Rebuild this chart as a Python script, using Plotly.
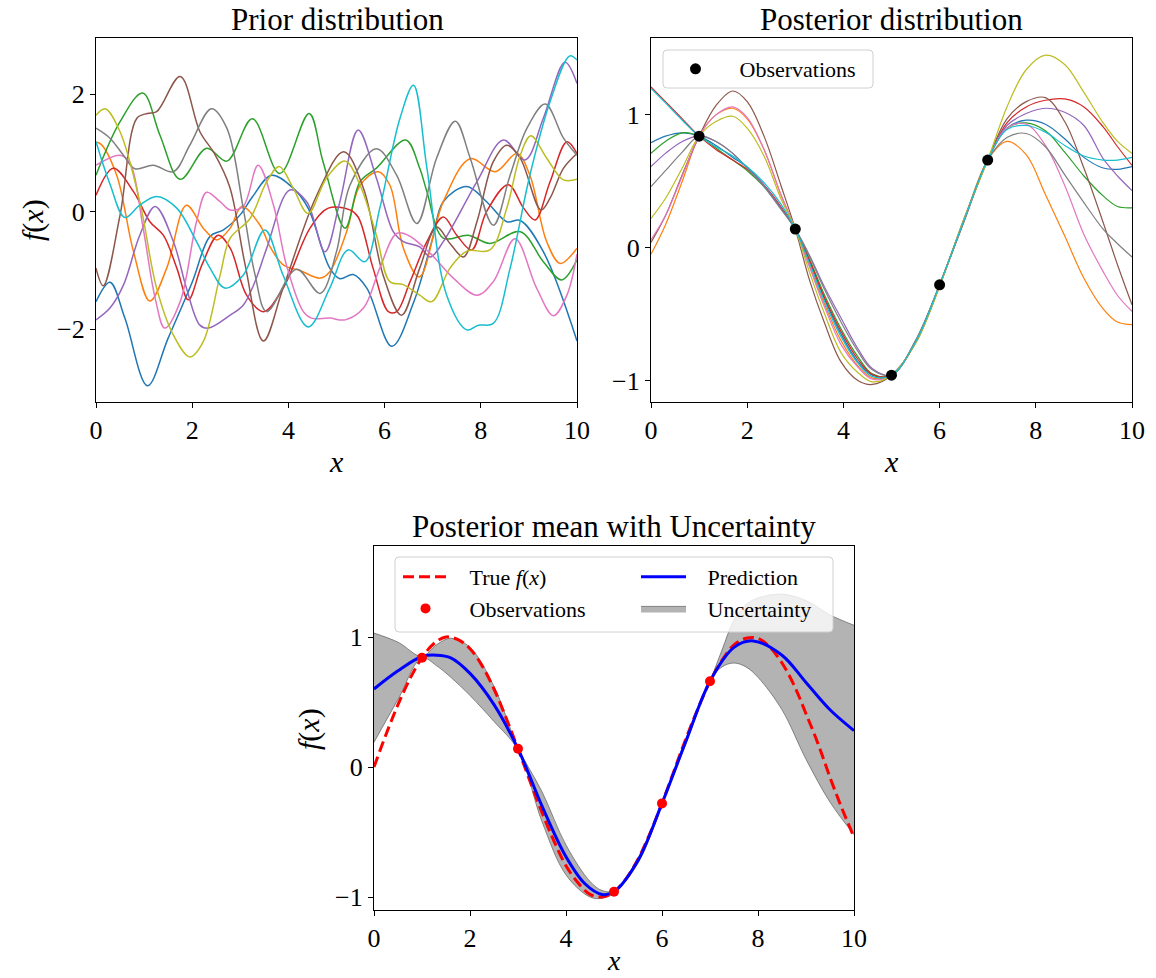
import plotly.graph_objects as go

W, H = 1156, 978
FONT = "Liberation Serif"
NB = "\u00a0\u00a0\u00a0"

# ---------------- Prior samples ----------------
prior_blue_x = [0, 0.29, 0.6, 1.07, 1.5, 2.0, 2.37, 2.65, 3.0, 3.25, 3.65, 4.1, 4.41, 4.86, 5.07, 5.35, 5.63, 6.15, 6.6, 7.0, 7.22, 7.71, 8.12, 8.54, 8.82, 9.3, 10]
prior_blue_y = [-1.53, -1.20, -1.81, -2.96, -2.15, -1.20, -0.42, -0.31, -0.05, 0.25, 0.62, 0.40, 0.06, -0.96, -1.14, -1.07, -1.30, -2.29, -1.55, -0.45, 0.17, 0.43, 0.17, -0.17, -0.15, -0.68, -2.2]

prior_orange_x = [0, 0.1, 0.43, 0.78, 1.12, 1.47, 1.88, 2.23, 2.51, 2.79, 3.03, 3.41, 3.62, 3.9, 4.24, 4.66, 4.86, 5.21, 5.49, 5.87, 6.11, 6.39, 6.72, 7.22, 7.78, 8.3, 8.75, 9.02, 9.37, 9.65, 10]
prior_orange_y = [1.18, 1.15, 0.62, -0.68, -1.52, -0.96, 0.11, -0.28, -0.48, -0.28, 0.09, -0.23, -0.60, -0.91, -1.00, -1.13, -1.02, -0.34, 0.45, 0.68, 0.45, -0.62, -1.11, 0.17, 0.90, 0.68, 0.99, 0.62, -0.51, -0.88, -0.62]

prior_green_x = [0, 0.5, 0.97, 1.33, 1.75, 2.3, 2.72, 3.25, 3.82, 4.43, 4.72, 5.18, 5.49, 5.83, 6.44, 6.73, 6.88, 7.22, 7.74, 8.19, 8.82, 9.3, 9.68, 10]
prior_green_y = [0.62, 1.53, 2.02, 1.30, 0.55, 1.08, 0.86, 1.58, 0.65, 1.67, 0.85, -0.28, 0.51, 0.74, 1.22, 0.74, 0.34, -0.45, -0.40, -0.54, -0.34, -0.85, -1.16, -0.82]

prior_red_x = [0, 0.36, 0.78, 1.12, 1.4, 1.68, 1.92, 2.2, 2.54, 2.79, 3.13, 3.48, 3.89, 4.45, 4.83, 5.28, 5.45, 5.76, 6.08, 6.25, 6.53, 6.88, 7.22, 7.5, 7.81, 8.12, 8.57, 8.89, 9.13, 9.44, 9.79, 10]
prior_red_y = [0.28, 0.74, 0.34, -0.17, -0.40, -0.96, -1.50, -0.91, -0.40, -0.62, -1.42, -1.70, -1.30, -0.28, 0.06, 0.03, -0.09, -0.96, -1.70, -1.70, -1.19, -0.51, -0.09, -0.40, -0.65, 0.0, 0.46, 0.06, -0.14, 0.51, 1.19, 0.99]

prior_purple_x = [0, 0.29, 0.57, 0.91, 1.23, 1.61, 1.88, 2.16, 2.34, 2.79, 3.06, 3.3, 3.55, 4.03, 4.38, 4.76, 5.07, 5.45, 5.83, 6.18, 6.39, 6.73, 6.95, 7.22, 7.92, 8.47, 8.92, 9.3, 9.75, 10]
prior_purple_y = [-1.84, -1.64, -1.25, -0.40, 0.09, -0.51, -1.30, -1.93, -1.98, -1.76, -1.59, -1.20, -0.62, 0.37, 0.17, -0.68, 0.17, 1.39, 0.57, -0.34, -0.51, -0.60, -0.77, -0.51, 0.51, 1.22, 0.88, 1.59, 2.54, 2.18]

prior_brown_x = [0, 0.15, 0.5, 0.85, 1.07, 1.26, 1.75, 2.16, 2.46, 2.78, 3.1, 3.48, 3.89, 4.59, 5.15, 5.56, 5.97, 6.35, 6.73, 7.08, 7.36, 7.64, 7.92, 8.26, 8.54, 8.82, 9.25, 9.44, 9.72, 10]
prior_brown_y = [-0.96, -1.26, -0.06, 1.59, 1.67, 1.70, 2.30, 1.36, 0.99, 0.42, -0.90, -2.20, -1.30, 0.28, 1.02, 0.40, -1.08, -1.76, -0.96, -0.26, -0.54, -0.77, -0.17, 0.85, 1.13, 0.91, 0.03, 0.23, 0.74, 0.99]

prior_pink_x = [0, 0.5, 0.71, 0.98, 1.23, 1.43, 1.75, 2.09, 2.3, 2.58, 2.79, 3.06, 3.37, 3.69, 3.96, 4.31, 4.48, 4.86, 5.18, 5.56, 5.9, 6.25, 6.49, 6.95, 7.43, 7.92, 8.26, 8.71, 9.16, 9.51, 9.79, 10]
prior_pink_y = [0.79, 0.96, 0.82, -0.28, -1.47, -1.98, -1.53, -0.17, 0.33, 0.17, 0.03, 0.09, 0.79, 0.11, -0.91, -1.70, -1.81, -1.81, -1.84, -1.64, -0.96, -0.37, -0.40, -0.71, -1.13, -1.42, -1.19, -0.46, -1.30, -1.77, -1.42, -0.72]

prior_gray_x = [0, 0.29, 0.57, 0.81, 1.19, 1.61, 1.95, 2.4, 2.72, 3.06, 3.3, 3.55, 4.17, 4.66, 5.0, 5.28, 5.83, 6.25, 6.67, 7.08, 7.47, 7.78, 8.26, 8.61, 8.96, 9.34, 9.72, 10]
prior_gray_y = [1.42, 1.25, 0.96, 0.73, 0.79, 0.68, 1.13, 1.75, 1.42, 0.06, -1.05, -1.70, -0.98, -1.39, -0.68, 0.45, 1.07, 0.62, -0.20, 0.91, 1.54, 0.91, -0.23, 0.62, 1.42, 1.83, 1.25, 0.96]

prior_olive_x = [0, 0.19, 0.5, 0.91, 1.26, 1.61, 1.95, 2.23, 2.58, 2.79, 3.2, 3.55, 3.81, 4.1, 4.41, 4.79, 5.18, 5.49, 5.83, 6.11, 6.39, 6.73, 6.98, 7.36, 7.71, 8.19, 8.54, 8.82, 9.04, 9.37, 9.72, 10]
prior_olive_y = [1.64, 1.75, 1.36, 0.17, -1.30, -2.10, -2.47, -2.21, -1.08, -0.45, -0.12, 0.51, 0.77, 0.40, -0.03, 0.57, 0.86, 0.45, -0.40, -1.19, -1.24, -1.42, -1.53, -0.96, -0.67, -0.65, 0.06, 0.96, 1.29, 0.91, 0.54, 0.55]

prior_cyan_x = [0, 0.29, 0.6, 0.91, 1.26, 1.68, 2.09, 2.37, 2.68, 3.06, 3.51, 3.89, 4.41, 4.86, 5.24, 5.59, 5.9, 6.32, 6.6, 6.88, 7.29, 7.71, 7.95, 8.26, 8.61, 9.02, 9.44, 9.85, 10]
prior_cyan_y = [1.19, 0.47, -0.10, 0.11, 0.26, 0.06, -0.51, -0.96, -1.30, -1.08, -0.31, -1.08, -1.96, -1.30, -0.65, -0.85, 0.06, 1.59, 2.15, 0.74, -1.42, -2.01, -1.93, -1.90, -0.96, 0.62, 1.87, 2.65, 2.58]

# ---------------- Posterior samples ----------------
post_x = [0, 0.3, 0.65, 1.0, 1.35, 1.7, 2.0, 2.35, 2.7, 3.0, 3.3, 3.6, 3.95, 4.3, 4.6, 5.0, 5.5, 6.0, 6.5, 7.0, 7.4, 7.8, 8.2, 8.6, 9.0, 9.4, 9.7, 10.0]
post_blue = [0.79, 0.84, 0.865, 0.84, 0.77, 0.68, 0.605, 0.47, 0.30, 0.14, -0.11, -0.38, -0.65, -0.86, -0.96, -0.96, -0.71, -0.28, 0.20, 0.66, 0.90, 0.96, 0.93, 0.82, 0.68, 0.60, 0.59, 0.61]
post_orange = [-0.05, 0.17, 0.50, 0.84, 1.00, 1.05, 0.97, 0.74, 0.40, 0.14, -0.14, -0.42, -0.70, -0.89, -0.98, -0.96, -0.71, -0.28, 0.20, 0.66, 0.80, 0.70, 0.40, 0.09, -0.23, -0.46, -0.56, -0.58]
post_green = [0.71, 0.80, 0.865, 0.84, 0.75, 0.66, 0.58, 0.46, 0.30, 0.14, -0.09, -0.35, -0.61, -0.82, -0.95, -0.96, -0.71, -0.28, 0.20, 0.66, 0.90, 0.94, 0.88, 0.72, 0.54, 0.39, 0.31, 0.30]
post_red = [1.21, 1.10, 0.97, 0.84, 0.74, 0.66, 0.59, 0.47, 0.31, 0.14, -0.10, -0.37, -0.63, -0.84, -0.955, -0.96, -0.71, -0.28, 0.20, 0.66, 0.94, 1.06, 1.11, 1.12, 1.06, 0.91, 0.76, 0.62]
post_purple = [0.61, 0.71, 0.80, 0.84, 0.80, 0.71, 0.60, 0.47, 0.30, 0.14, -0.06, -0.29, -0.53, -0.76, -0.91, -0.96, -0.70, -0.28, 0.19, 0.66, 0.92, 1.01, 1.05, 1.02, 0.92, 0.67, 0.54, 0.43]
post_brown = [0.04, 0.24, 0.55, 0.84, 1.07, 1.18, 1.10, 0.84, 0.47, 0.14, -0.25, -0.56, -0.86, -1.00, -1.03, -0.96, -0.72, -0.29, 0.21, 0.66, 0.97, 1.10, 1.13, 0.95, 0.60, 0.19, -0.13, -0.43]
post_pink = [0.06, 0.24, 0.54, 0.84, 1.00, 1.06, 0.98, 0.74, 0.40, 0.14, -0.15, -0.44, -0.73, -0.90, -0.99, -0.96, -0.71, -0.28, 0.20, 0.66, 0.90, 0.93, 0.77, 0.47, 0.10, -0.18, -0.36, -0.48]
post_gray = [0.46, 0.58, 0.72, 0.84, 0.80, 0.71, 0.60, 0.46, 0.29, 0.14, -0.07, -0.31, -0.56, -0.78, -0.92, -0.96, -0.70, -0.28, 0.19, 0.66, 0.83, 0.86, 0.76, 0.55, 0.34, 0.14, 0.03, -0.07]
post_olive = [0.22, 0.37, 0.60, 0.84, 0.95, 0.99, 0.90, 0.69, 0.37, 0.14, -0.19, -0.49, -0.79, -0.94, -1.01, -0.96, -0.72, -0.29, 0.21, 0.66, 1.06, 1.34, 1.45, 1.38, 1.17, 0.94, 0.80, 0.71]
post_cyan = [1.20, 1.09, 0.96, 0.84, 0.76, 0.69, 0.61, 0.49, 0.33, 0.14, -0.12, -0.40, -0.67, -0.87, -0.97, -0.96, -0.71, -0.28, 0.20, 0.66, 0.89, 0.92, 0.87, 0.77, 0.69, 0.66, 0.66, 0.68]

# ---------------- Observations ----------------
obs_x = [1, 3, 5, 6, 7]
obs_y = [0.84, 0.14, -0.96, -0.28, 0.66]

# ---------------- Posterior mean with uncertainty ----------------
true_x = [0, 0.25, 0.5, 0.75, 1, 1.25, 1.5, 1.75, 2, 2.25, 2.5, 2.75, 3, 3.25, 3.5, 3.75, 4, 4.25, 4.5, 4.75, 5,
          5.25, 5.5, 5.75, 6, 6.25, 6.5, 6.75, 7, 7.25, 7.5, 7.75, 8, 8.25, 8.5, 8.75, 9, 9.25, 9.5, 9.75, 10]
true_y = [0.00, 0.25, 0.48, 0.68, 0.84, 0.95, 1.00, 0.98, 0.91, 0.78, 0.60, 0.38, 0.14, -0.11, -0.35, -0.57, -0.76,
          -0.89, -0.98, -1.00, -0.96, -0.86, -0.71, -0.51, -0.28, -0.03, 0.22, 0.45, 0.66, 0.82, 0.94, 0.99, 0.99,
          0.92, 0.80, 0.63, 0.41, 0.18, -0.08, -0.32, -0.54]

pred_x = [0, 0.5, 1, 1.3, 1.6, 2, 2.5, 3, 3.5, 4, 4.4, 4.75, 5, 5.5, 6, 6.5, 7, 7.5, 7.9, 8.5, 9, 9.5, 10]
pred_y = [0.60, 0.74, 0.85, 0.86, 0.84, 0.72, 0.48, 0.14, -0.30, -0.69, -0.90, -0.98, -0.96, -0.72, -0.28, 0.20, 0.66, 0.92, 0.97, 0.86, 0.65, 0.44, 0.28]

band_x = [0, 0.5, 1, 1.3, 1.6, 2, 2.5, 3, 3.5, 4, 4.5, 4.75, 5, 5.5, 6, 6.5, 7, 7.25, 7.5, 7.75, 8, 8.5, 9, 9.5, 10]
band_upper = [1.03, 0.96, 0.85, 0.94, 0.99, 0.92, 0.62, 0.15, -0.19, -0.60, -0.88, -0.95, -0.95, -0.70, -0.27, 0.22, 0.66, 0.90, 1.13, 1.25, 1.30, 1.33, 1.28, 1.17, 1.09]
band_lower = [0.19, 0.52, 0.84, 0.78, 0.69, 0.55, 0.35, 0.13, -0.42, -0.83, -1.00, -1.01, -0.97, -0.74, -0.29, 0.18, 0.66, 0.77, 0.80, 0.77, 0.69, 0.44, 0.06, -0.27, -0.52]

tab10 = ['#1f77b4', '#ff7f0e', '#2ca02c', '#d62728', '#9467bd',
         '#8c564b', '#e377c2', '#7f7f7f', '#bcbd22', '#17becf']

prior_series = [
    (prior_blue_x, prior_blue_y), (prior_orange_x, prior_orange_y), (prior_green_x, prior_green_y),
    (prior_red_x, prior_red_y), (prior_purple_x, prior_purple_y), (prior_brown_x, prior_brown_y),
    (prior_pink_x, prior_pink_y), (prior_gray_x, prior_gray_y), (prior_olive_x, prior_olive_y),
    (prior_cyan_x, prior_cyan_y),
]
post_series = [post_blue, post_orange, post_green, post_red, post_purple,
               post_brown, post_pink, post_gray, post_olive, post_cyan]

fig = go.Figure()

for (xs, ys), c in zip(prior_series, tab10):
    fig.add_trace(go.Scatter(x=xs, y=ys, mode='lines', line=dict(color=c, width=1.5, shape='spline', smoothing=1.0),
                             showlegend=False, xaxis='x', yaxis='y', hoverinfo='skip'))

for ys, c in zip(post_series, tab10):
    fig.add_trace(go.Scatter(x=post_x, y=ys, mode='lines', line=dict(color=c, width=1.2, shape='spline', smoothing=1.0),
                             showlegend=False, xaxis='x2', yaxis='y2', hoverinfo='skip'))

fig.add_trace(go.Scatter(x=obs_x, y=obs_y, mode='markers', name=NB + 'Observations',
                         marker=dict(color='black', size=11), xaxis='x2', yaxis='y2', legend='legend'))

# bottom
fig.add_trace(go.Scatter(x=band_x, y=band_lower, mode='lines', line=dict(color='rgba(100,100,100,0.75)', width=1, shape='spline'),
                         showlegend=False, xaxis='x3', yaxis='y3', hoverinfo='skip'))
fig.add_trace(go.Scatter(x=band_x, y=band_upper, mode='lines', line=dict(color='rgba(100,100,100,0.75)', width=1, shape='spline'),
                         fill='tonexty', fillcolor='rgba(128,128,128,0.6)', name=NB + 'Uncertainty',
                         xaxis='x3', yaxis='y3', legend='legend3', legendrank=2))
fig.add_trace(go.Scatter(x=true_x, y=true_y, mode='lines', name=NB + 'True <i>f</i>(<i>x</i>)',
                         line=dict(color='red', width=3, dash='11px,5px', shape='spline'),
                         xaxis='x3', yaxis='y3', legend='legend2', legendrank=1))
fig.add_trace(go.Scatter(x=pred_x, y=pred_y, mode='lines', name=NB + 'Prediction',
                         line=dict(color='blue', width=3, shape='spline'),
                         xaxis='x3', yaxis='y3', legend='legend3', legendrank=1))
fig.add_trace(go.Scatter(x=obs_x, y=obs_y, mode='markers', name=NB + 'Observations',
                         marker=dict(color='red', size=10), xaxis='x3', yaxis='y3', legend='legend2', legendrank=2))


def axis(domain, rng, tickvals, anchor):
    return dict(domain=domain, range=rng, tickvals=tickvals, anchor=anchor,
                showline=True, linecolor='black', linewidth=1.2, mirror=True,
                ticks='outside', ticklen=5, tickwidth=1, tickcolor='black',
                showgrid=False, zeroline=False, automargin=False,
                tickfont=dict(family=FONT, size=26, color='black'))


def px(x):
    return x / W


def py(y):
    return 1 - y / H


def rounded(x0, y0, x1, y1, r=4):
    return (f"M {px(x0 + r)},{py(y0)} L {px(x1 - r)},{py(y0)} Q {px(x1)},{py(y0)} {px(x1)},{py(y0 + r)} "
            f"L {px(x1)},{py(y1 - r)} Q {px(x1)},{py(y1)} {px(x1 - r)},{py(y1)} "
            f"L {px(x0 + r)},{py(y1)} Q {px(x0)},{py(y1)} {px(x0)},{py(y1 - r)} "
            f"L {px(x0)},{py(y0 + r)} Q {px(x0)},{py(y0)} {px(x0 + r)},{py(y0)} Z")


top_dom = [py(402), py(38)]
bot_dom = [py(910), py(546)]

legend_common = dict(bgcolor='rgba(0,0,0,0)', borderwidth=0, font=dict(family=FONT, size=22, color='black'),
                     itemwidth=45, xanchor='left', yanchor='middle', tracegroupgap=0, traceorder='normal')

fig.update_layout(
    width=W, height=H, margin=dict(l=0, r=0, t=0, b=0, autoexpand=False),
    paper_bgcolor='white', plot_bgcolor='white',
    font=dict(family=FONT, color='black'),
    xaxis=axis([px(96), px(577)], [0, 10], [0, 2, 4, 6, 8, 10], 'y'),
    yaxis=axis(top_dom, [-3.237, 2.954], [-2, 0, 2], 'x'),
    xaxis2=axis([px(651), px(1132)], [0, 10], [0, 2, 4, 6, 8, 10], 'y2'),
    yaxis2=axis(top_dom, [-1.162, 1.579], [-1, 0, 1], 'x2'),
    xaxis3=axis([px(374), px(854)], [0, 10], [0, 2, 4, 6, 8, 10], 'y3'),
    yaxis3=axis(bot_dom, [-1.10, 1.70], [-1, 0, 1], 'x3'),
    legend=dict(x=px(668), y=py(69), **legend_common),
    legend2=dict(x=px(398), y=py(593), **legend_common),
    legend3=dict(x=px(636), y=py(593), **legend_common),
    shapes=[
        dict(type='path', xref='paper', yref='paper', path=rounded(663, 50, 873, 88),
             fillcolor='rgba(255,255,255,0.8)', line=dict(color='#d0d0d0', width=1), layer='above'),
        dict(type='path', xref='paper', yref='paper', path=rounded(395, 557, 833, 632),
             fillcolor='rgba(255,255,255,0.8)', line=dict(color='#d0d0d0', width=1), layer='above'),
    ],
    annotations=[
        dict(text='Prior distribution', x=px(337), y=py(20), xref='paper', yref='paper', showarrow=False,
             xanchor='center', yanchor='middle', font=dict(family=FONT, size=31)),
        dict(text='Posterior distribution', x=px(891.5), y=py(20), xref='paper', yref='paper', showarrow=False,
             xanchor='center', yanchor='middle', font=dict(family=FONT, size=31)),
        dict(text='Posterior mean with Uncertainty', x=px(614), y=py(526), xref='paper', yref='paper', showarrow=False,
             xanchor='center', yanchor='middle', font=dict(family=FONT, size=31)),
        dict(text='<i>x</i>', x=px(336.5), y=py(461), xref='paper', yref='paper', showarrow=False,
             xanchor='center', yanchor='middle', font=dict(family=FONT, size=30)),
        dict(text='<i>x</i>', x=px(891.5), y=py(461), xref='paper', yref='paper', showarrow=False,
             xanchor='center', yanchor='middle', font=dict(family=FONT, size=30)),
        dict(text='<i>x</i>', x=px(614), y=0, xref='paper', yref='paper', showarrow=False,
             xanchor='center', yanchor='bottom', font=dict(family=FONT, size=28)),
        dict(text='<i>f</i>(<i>x</i>)', x=px(33), y=py(220), xref='paper', yref='paper', showarrow=False,
             xanchor='center', yanchor='middle', textangle=-90, font=dict(family=FONT, size=30)),
        dict(text='<i>f</i>(<i>x</i>)', x=px(309), y=py(729), xref='paper', yref='paper', showarrow=False,
             xanchor='center', yanchor='middle', textangle=-90, font=dict(family=FONT, size=30)),
    ],
)

fig.write_html("out.html")
